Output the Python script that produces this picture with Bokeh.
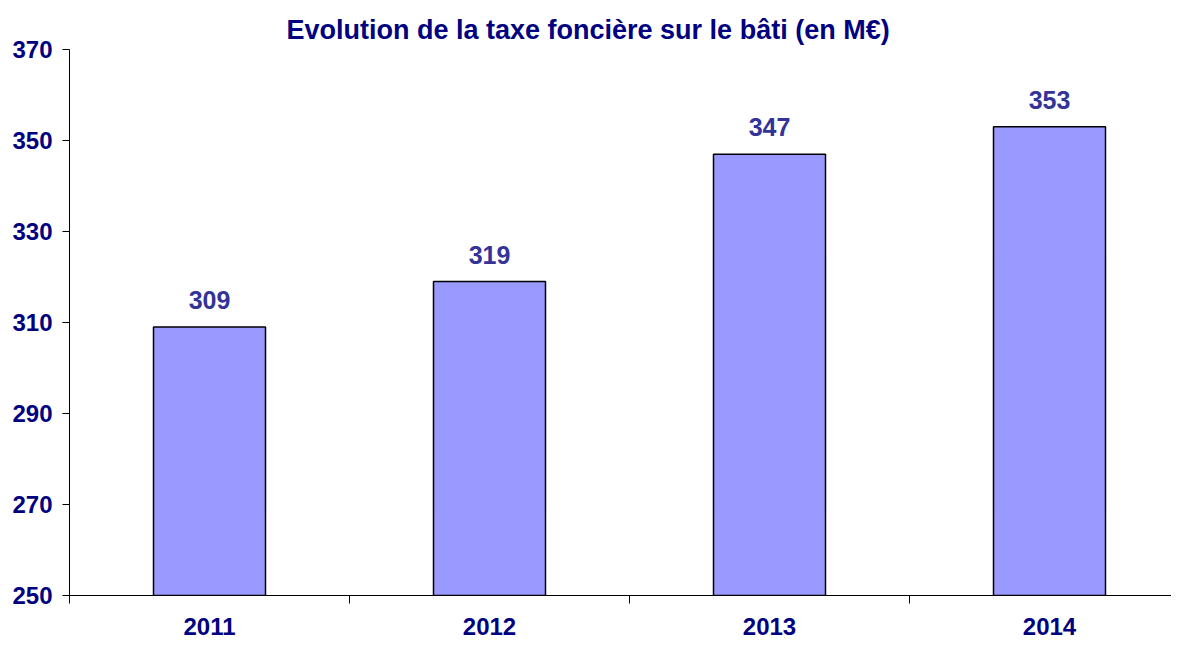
from bokeh.plotting import figure
from bokeh.models import Range1d, FixedTicker, ColumnDataSource
from bokeh.core.properties import value
from bokeh.embed import file_html
from bokeh.resources import INLINE

years = ["2011", "2012", "2013", "2014"]
values = [309, 319, 347, 353]
y_ticks = [250, 270, 290, 310, 330, 350, 370]
title = "Evolution de la taxe foncière sur le bâti (en M€)"

xs = [i + 0.5 for i in range(len(years))]
src = ColumnDataSource(dict(x=xs, top=values, label=[str(v) for v in values]))

p = figure(width=1171, height=638, output_backend="svg", toolbar_location=None,
           x_range=Range1d(0, 1102 / 280), y_range=Range1d(250, 370),
           min_border_left=69, min_border_right=0, min_border_bottom=43, min_border_top=49)
p.title.text = title
p.title.text_font = "Liberation Sans"
p.title.text_font_size = "27px"
p.title.text_color = "#000080"
p.title.text_font_style = "bold"
p.title.align = "left"
p.title.offset = 217

p.vbar(x="x", top="top", bottom=250, width=0.4, source=src,
       fill_color="#9999FF", line_color="black", line_width=1.5)
p.text(x="x", y="top", text="label", source=src, text_align="center", text_baseline="bottom",
       y_offset=-18, text_font=value("Liberation Sans"), text_font_style="bold",
       text_font_size="25px", text_color="#333399")

p.xgrid.visible = False
p.ygrid.visible = False
p.outline_line_color = None

xa = p.xaxis[0]
xa.ticker = FixedTicker(ticks=xs, minor_ticks=list(range(len(years) + 1)))
xa.major_label_overrides = {x: y for x, y in zip(xs, years)}
xa.major_tick_line_color = None
xa.major_tick_out = 0
xa.major_tick_in = 0
xa.minor_tick_out = 8
xa.minor_tick_in = 0
xa.minor_tick_line_color = "black"
xa.axis_line_color = "black"
xa.major_label_standoff = 14
xa.major_label_text_font = "Liberation Sans"
xa.major_label_text_font_style = "bold"
xa.major_label_text_font_size = "24px"
xa.major_label_text_color = "#000080"

ya = p.yaxis[0]
ya.ticker = FixedTicker(ticks=y_ticks, minor_ticks=[])
ya.major_tick_out = 7
ya.major_tick_in = 0
ya.major_tick_line_color = "black"
ya.axis_line_color = "black"
ya.major_label_standoff = 10
ya.major_label_text_font = "Liberation Sans"
ya.major_label_text_font_style = "bold"
ya.major_label_text_font_size = "24px"
ya.major_label_text_color = "#000080"

open("out.html", "w").write(file_html(p, INLINE))
